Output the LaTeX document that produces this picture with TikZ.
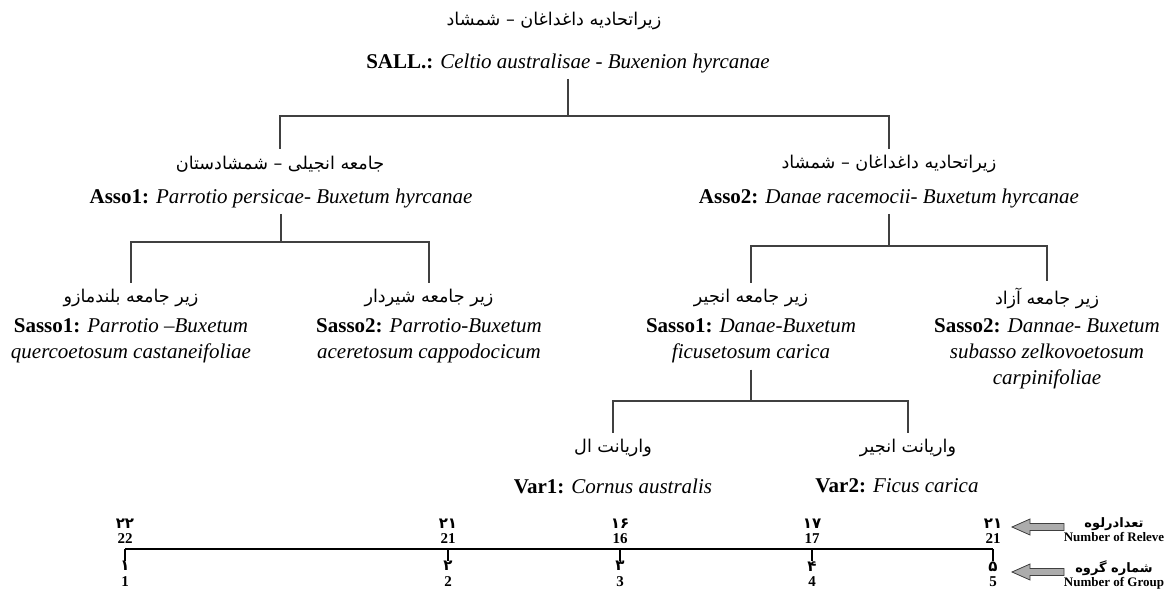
\documentclass[tikz,border=0pt]{standalone}
\usepackage{fontspec}
\setmainfont{Liberation Serif}
\newfontfamily\fa[Script=Arabic]{DejaVu Sans}
\TeXXeTstate=1
\begin{document}
\begin{tikzpicture}[x=0.5pt,y=-0.5pt,
  lat/.style={font=\fontsize{10.5}{13}\selectfont, align=center, inner xsep=0pt, inner ysep=3pt},
  per/.style={font=\fa\fontsize{8.8}{10}\selectfont, inner xsep=0pt, inner ysep=3pt},
  conn/.style={draw=black!75, line width=0.6pt},
  axisln/.style={draw=black, line width=1.2pt},
  num/.style={font=\bfseries\fontsize{7.5}{7.7}\selectfont, align=center, inner sep=0pt},
  leg/.style={font=\bfseries\fontsize{6.5}{7}\selectfont, align=center, inner sep=0pt},
  garrow/.style={fill=gray!65, draw=black!75, line width=0.4pt}]
\fill[white] (0,0) rectangle (1168,590);
\useasboundingbox (0,0) rectangle (1168,590);

% level 1
\node[per] (tp) at (554,21) {\beginR زیراتحادیه داغداغان – شمشاد\endR};
\node[lat] (sall) at (568,63) {\textbf{SALL.:} \textit{Celtio australisae - Buxenion hyrcanae}};
\coordinate (j1) at (0,116);

% level 2
\node[per] (a1p) at (280,164) {\beginR جامعه انجیلی – شمشادستان\endR};
\node[lat] (a1l) at (281,198) {\textbf{Asso1:} \textit{Parrotio persicae- Buxetum hyrcanae}};
\node[per] (a2p) at (889,164) {\beginR زیراتحادیه داغداغان – شمشاد\endR};
\node[lat] (a2l) at (889,198) {\textbf{Asso2:} \textit{Danae racemocii- Buxetum hyrcanae}};
\coordinate (j2) at (0,242);
\coordinate (j3) at (0,246);

% level 3
\node[per] (s1p) at (131,298) {\beginR زیر جامعه بلندمازو\endR};
\node[lat] (s1l) at (131,341) {\textbf{Sasso1:} \textit{Parrotio –Buxetum}\\\textit{quercoetosum castaneifoliae}};
\node[per] (s2p) at (429,298) {\beginR زیر جامعه شیردار\endR};
\node[lat] (s2l) at (429,341) {\textbf{Sasso2:} \textit{Parrotio-Buxetum}\\\textit{aceretosum cappodocicum}};
\node[per] (s3p) at (751,298) {\beginR زیر جامعه انجیر\endR};
\node[lat] (s3l) at (751,341) {\textbf{Sasso1:} \textit{Danae-Buxetum}\\\textit{ficusetosum carica}};
\node[per] (s4p) at (1047,298) {\beginR زیر جامعه آزاد\endR};
\node[lat] (s4l) at (1047,354) {\textbf{Sasso2:} \textit{Dannae- Buxetum}\\\textit{subasso zelkovoetosum}\\\textit{carpinifoliae}};
\coordinate (j4) at (0,401);

% level 4
\node[per] (v1p) at (613,448) {\beginR واریانت ال\endR};
\node[lat] (v1l) at (613,486) {\textbf{Var1:} \textit{Cornus australis}};
\node[per] (v2p) at (908,448) {\beginR واریانت انجیر\endR};
\node[lat] (v2l) at (897,486) {\textbf{Var2:} \textit{Ficus carica}};

% connectors
\draw[conn] (sall.south) -- (sall.south |- j1) -| (a1p.north);
\draw[conn] (sall.south |- j1) -| (a2p.north);
\draw[conn] (a1l.south) -- (a1l.south |- j2) -| (s1p.north);
\draw[conn] (a1l.south |- j2) -| (s2p.north);
\draw[conn] (a2l.south) -- (a2l.south |- j3) -| (s3p.north);
\draw[conn] (a2l.south |- j3) -| (s4p.north);
\draw[conn] (s3l.south) -- (s3l.south |- j4) -| (v1p.north);
\draw[conn] (s3l.south |- j4) -| (v2p.north);

% axis
\coordinate (ax1) at (125,549);
\coordinate (ax2) at (448,549);
\coordinate (ax3) at (620,549);
\coordinate (ax4) at (812,549);
\coordinate (ax5) at (993,549);
\node[num, anchor=south] (n1) at (125,544) {{\fa ۲۲}\\22};
\node[num, anchor=south] (n2) at (448,544) {{\fa ۲۱}\\21};
\node[num, anchor=south] (n3) at (620,544) {{\fa ۱۶}\\16};
\node[num, anchor=south] (n4) at (812,544) {{\fa ۱۷}\\17};
\node[num, anchor=south] (n5) at (993,544) {{\fa ۲۱}\\21};
\node[num, anchor=north] (g1) at (125,561) {{\fa ۱}\\1};
\node[num, anchor=north] (g2) at (448,561) {{\fa ۲}\\2};
\node[num, anchor=north] (g3) at (620,561) {{\fa ۳}\\3};
\node[num, anchor=north] (g4) at (812,561) {{\fa ۴}\\4};
\node[num, anchor=north] (g5) at (993,561) {{\fa ۵}\\5};
\draw[axisln] (ax1) -- (ax5);
\draw[axisln] (ax1) -- (g1.north);
\draw[axisln] (ax2) -- (g2.north);
\draw[axisln] (ax3) -- (g3.north);
\draw[axisln] (ax4) -- (g4.north);
\draw[axisln] (ax5) -- (g5.north);

% legend
\draw[garrow] (1012,527) -- (1030,519) -- (1030,523.5) -- (1064,523.5) -- (1064,530.5) -- (1030,530.5) -- (1030,535) -- cycle;
\draw[garrow] (1012,572) -- (1030,564) -- (1030,568.5) -- (1064,568.5) -- (1064,575.5) -- (1030,575.5) -- (1030,580) -- cycle;
\node[leg] (lr) at (1114,530) {{\fa\beginR تعدادرلوه\endR}\\Number of Releve};
\node[leg] (lg) at (1114,575) {{\fa\beginR شماره گروه\endR}\\Number of Group};
\end{tikzpicture}
\end{document}
